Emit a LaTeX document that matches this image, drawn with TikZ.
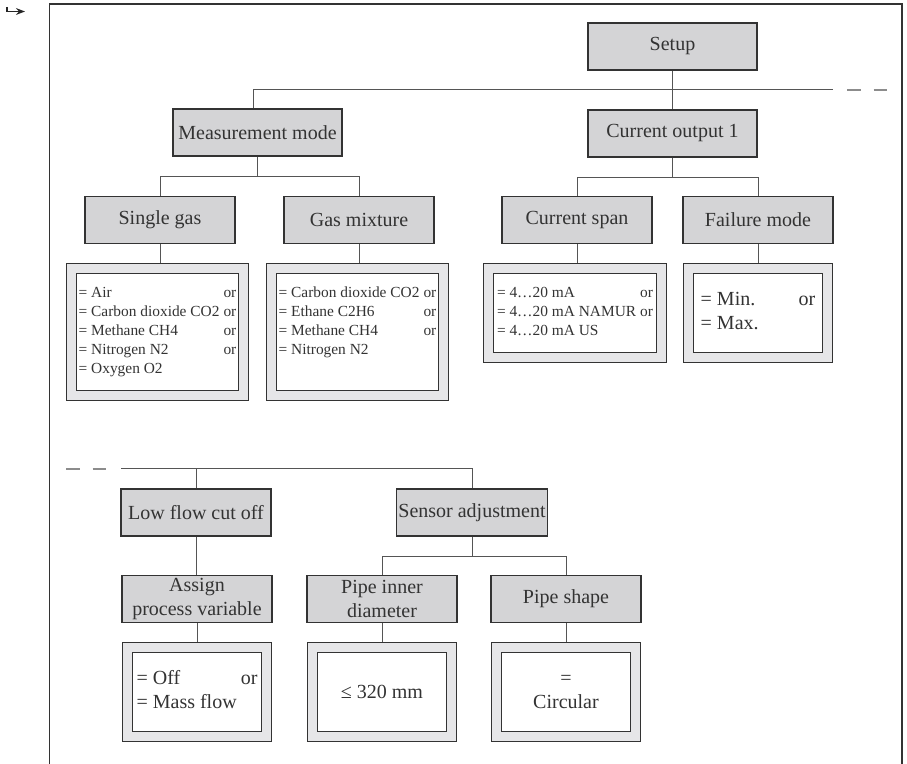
\documentclass[tikz,border=0pt]{standalone}
\usepackage{fontspec}
\setmainfont{Liberation Serif}
\usepackage{xcolor}
\usetikzlibrary{arrows.meta}

\definecolor{boxgray}{HTML}{D4D4D6}
\definecolor{framegray}{HTML}{E6E6E8}
\definecolor{inkgray}{HTML}{333333}
\definecolor{linkgray}{HTML}{555555}

\begin{document}
\begin{tikzpicture}[x=0.5pt, y=-0.5pt,
    menubox/.style={draw=inkgray, line width=0.6pt, fill=boxgray, text=inkgray,
        minimum width=75pt, minimum height=23.5pt, inner sep=1pt, align=center},
    valuebox/.style={draw=inkgray, line width=0.6pt, double=framegray, double distance=4.5pt,
        fill=white, text=inkgray, outer sep=2.85pt, inner sep=0pt, align=center},
    smalltext/.style={font=\fontsize{7.7}{9.5}\selectfont},
    link/.style={draw=linkgray, line width=0.5pt},
    cutline/.style={draw=black!45, line width=0.6pt, dash pattern=on 6.8pt off 6.5pt}]
    \useasboundingbox (0,0) rectangle (907,764);

    % Corner arrow and frame
    \draw[black!85, line width=0.9pt, -{Stealth[length=4.5pt,width=3.4pt]}] (7,7) |- (25,11.5);
    \draw[inkgray, line width=0.9pt] (49.5,764) |- (902,4) -- (902,764);

    % Upper menu boxes
    \node[menubox, minimum width=84.5pt] (setup) at (672.5,46.5) {Setup};
    \node[menubox, minimum width=84.5pt] (curout) at (672.5,133.5) {Current output 1};
    \node[menubox, minimum width=84.5pt] (measmode) at (257.5,132.5) {Measurement mode};
    \node[menubox] (singlegas) at (160,220) {Single gas};
    \node[menubox] (gasmix) at (359,220) {Gas mixture};
    \node[menubox] (curspan) at (577,220) {Current span};
    \node[menubox] (failmode) at (758,220) {Failure mode};

    % Upper value lists
    \node[valuebox, smalltext, minimum width=85.8pt, minimum height=63.3pt] (singlelist) at (157.5,332)
        {\begin{tabular}{@{}l@{\hspace{2pt}}r@{}}
         = Air & or\\ = Carbon dioxide CO2 & or\\ = Methane CH4 & or\\ = Nitrogen N2 & or\\ = Oxygen O2 &
         \end{tabular}};
    \node[valuebox, smalltext, minimum width=85.8pt, minimum height=63.3pt] (mixlist) at (357.5,332)
        {\begin{tabular}{@{}l@{\hspace{2pt}}r@{}}
         = Carbon dioxide CO2 & or\\ = Ethane C2H6 & or\\ = Methane CH4 & or\\ = Nitrogen N2 & \\ &
         \end{tabular}};
    \node[valuebox, smalltext, minimum width=86.3pt, minimum height=44.3pt] (spanlist) at (575,313)
        {\begin{tabular}{@{}l@{\hspace{2pt}}r@{}}
         = 4…20 mA & or\\ = 4…20 mA NAMUR & or\\ = 4…20 mA US &
         \end{tabular}};
    \node[valuebox, minimum width=69.3pt, minimum height=44.3pt] (faillist) at (758,313)
        {\begin{tabular}{@{}l@{\hspace{20pt}}r@{}}
         = Min. & or\\ = Max. &
         \end{tabular}};

    % Lower menu boxes
    \node[menubox] (lowflow) at (196,512.5) {Low flow cut off};
    \node[menubox] (sensadj) at (472,512.5) {Sensor adjustment};
    \node[menubox] (assign) at (197,599) {Assign\\process variable};
    \node[menubox] (pipediam) at (382,599) {Pipe inner\\diameter};
    \node[menubox] (pipeshape) at (566,599) {Pipe shape};

    % Lower value lists
    \node[valuebox, minimum width=69.3pt, minimum height=44.3pt] (assignlist) at (197,692)
        {\begin{tabular}{@{}l@{\hspace{2pt}}r@{}}
         = Off & or\\ = Mass flow &
         \end{tabular}};
    \node[valuebox, minimum width=69.3pt, minimum height=44.3pt] (diamlist) at (382,692) {≤ 320 mm};
    \node[valuebox, minimum width=69.3pt, minimum height=44.3pt] (shapelist) at (566,692) {=\\Circular};

    % Bus points
    \coordinate (topbus) at (833,90);
    \coordinate (topcutA) at (847,90);
    \coordinate (topcutB) at (887,90);
    \coordinate (measbus) at ([yshift=-10pt]measmode.south);
    \coordinate (outbus) at ([yshift=-10pt]curout.south);
    \coordinate (lowbus) at (121,469);
    \coordinate (lowcutA) at (66,469);
    \coordinate (lowcutB) at (107,469);
    \coordinate (sensbus) at ([yshift=-10pt]sensadj.south);

    % Upper connectors
    \draw[link] ([xshift=-2pt]measmode.north) |- (topbus);
    \draw[cutline] (topcutA) -- (topcutB);
    \draw[link] (setup) -- (curout);
    \draw[link] (measmode.south) -- (measbus);
    \draw[link] (singlegas.north) |- (measbus) -| (gasmix.north);
    \draw[link] (curout.south) -- (outbus);
    \draw[link] (curspan.north) |- (outbus) -| (failmode.north);
    \draw[link] (singlegas.south) -- (singlegas.south |- singlelist.north);
    \draw[link] (gasmix.south) -- (gasmix.south |- mixlist.north);
    \draw[link] (curspan.south) -- (curspan.south |- spanlist.north);
    \draw[link] (failmode.south) -- (failmode.south |- faillist.north);

    % Lower connectors
    \draw[cutline] (lowcutA) -- (lowcutB);
    \draw[link] (lowbus) -| (sensadj.north);
    \draw[link] (lowflow.north) -- (lowflow.north |- lowbus);
    \draw[link] (lowflow.south) -- (lowflow.south |- assign.north);
    \draw[link] (sensadj.south) -- (sensbus);
    \draw[link] (pipediam.north) |- (sensbus) -| (pipeshape.north);
    \draw[link] (assign.south) -- (assign.south |- assignlist.north);
    \draw[link] (pipediam.south) -- (pipediam.south |- diamlist.north);
    \draw[link] (pipeshape.south) -- (pipeshape.south |- shapelist.north);
\end{tikzpicture}
\end{document}
